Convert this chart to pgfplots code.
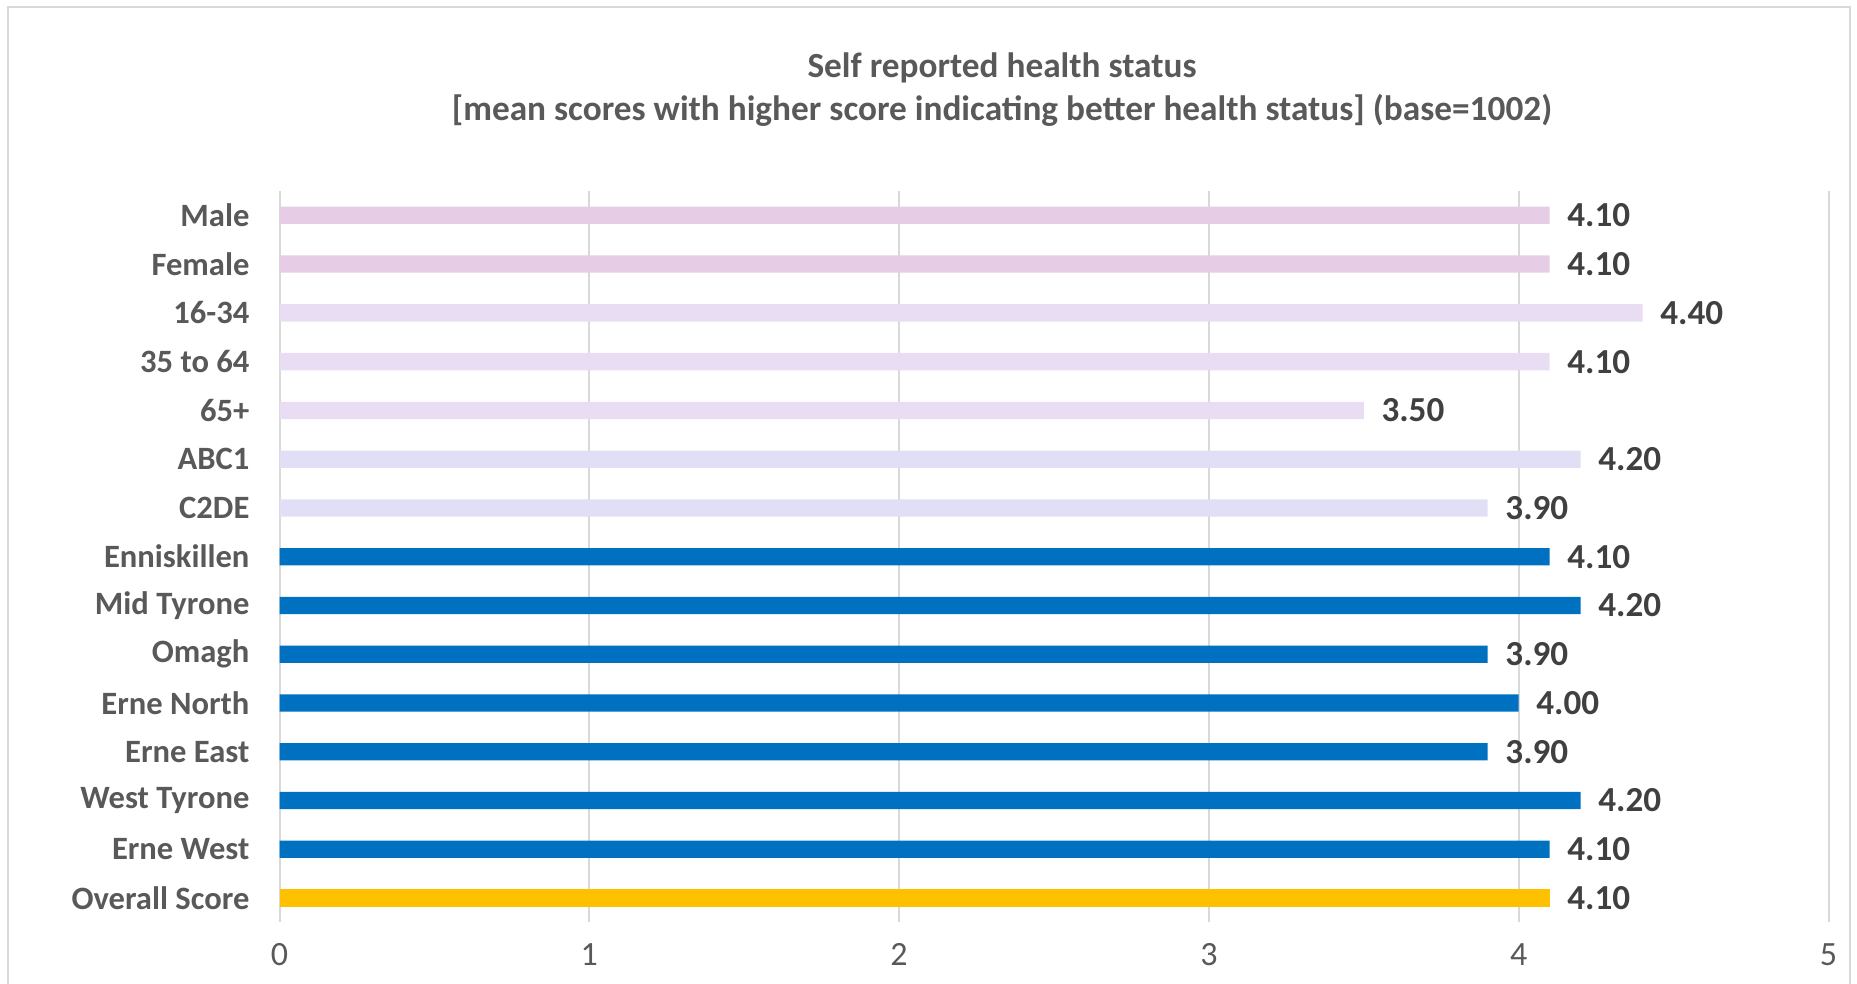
\documentclass[border=0pt]{standalone}
\usepackage{fontspec}
\setmainfont{Carlito}
\usepackage{pgfplots}
\pgfplotsset{compat=1.18}
\definecolor{lab}{HTML}{595959}
\definecolor{val}{HTML}{404040}
\definecolor{grd}{HTML}{D9D9D9}
\definecolor{cPink}{HTML}{E6CDE5}
\definecolor{cLilac}{HTML}{E9DDF3}
\definecolor{cLav}{HTML}{E1DFF5}
\definecolor{cBlue}{HTML}{0070C0}
\definecolor{cGold}{HTML}{FFC000}
\begin{document}
\begin{tikzpicture}
\useasboundingbox (0,0) rectangle (649.95pt,344.4pt);
\draw[grd, line width=0.8pt] (2.8pt,-5pt) rectangle (647.5pt,341.9pt);
\node[font=\bfseries\fontsize{12.35}{14}\selectfont, text=lab] at (350.7pt,320.6pt) {Self reported health status};
\node[font=\bfseries\fontsize{12.35}{14}\selectfont, text=lab] at (350.7pt,305.6pt) {[mean scores with higher score indicating better health status] (base=1002)};
\begin{axis}[
  at={(97.825pt,21.56pt)}, anchor=south west,
  scale only axis, width=542.15pt, height=256pt,
  xmin=0, xmax=5, ymin=-0.5, ymax=14.5,
  y dir=reverse,
  ytick={0,...,14},
  yticklabels={Male,Female,16-34,35 to 64,65+,ABC1,C2DE,Enniskillen,Mid Tyrone,Omagh,Erne North,Erne East,West Tyrone,Erne West,Overall Score},
  xtick={0,...,5},
  xmajorgrids,
  major grid style={draw=grd, line width=0.7pt},
  axis line style={draw=none},
  major tick length=0pt,
  /pgf/number format/assume math mode=true,
  tick label style={font=\fontsize{11.9}{14}\selectfont, text=lab},
  yticklabel style={font=\bfseries\fontsize{11.4}{14}\selectfont, xshift=-7pt},
  xticklabel style={yshift=-4pt},
  xbar, bar width=6.05pt,
  nodes near coords={\pgfmathprintnumber[fixed,fixed zerofill,precision=2,assume math mode=true]{\pgfplotspointmeta}},
  nodes near coords style={font=\bfseries\fontsize{12.3}{14}\selectfont, text=val, anchor=west, inner sep=0pt, xshift=6pt},
  clip=false
]
\addplot[fill=cPink, draw=none, bar shift=0pt] coordinates {(4.1,0) (4.1,1)};
\addplot[fill=cLilac, draw=none, bar shift=0pt] coordinates {(4.4,2) (4.1,3) (3.5,4)};
\addplot[fill=cLav, draw=none, bar shift=0pt] coordinates {(4.2,5) (3.9,6)};
\addplot[fill=cBlue, draw=none, bar shift=0pt] coordinates {(4.1,7) (4.2,8) (3.9,9) (4.0,10) (3.9,11) (4.2,12) (4.1,13)};
\addplot[fill=cGold, draw=none, bar shift=0pt] coordinates {(4.1,14)};
\end{axis}
\end{tikzpicture}
\end{document}
